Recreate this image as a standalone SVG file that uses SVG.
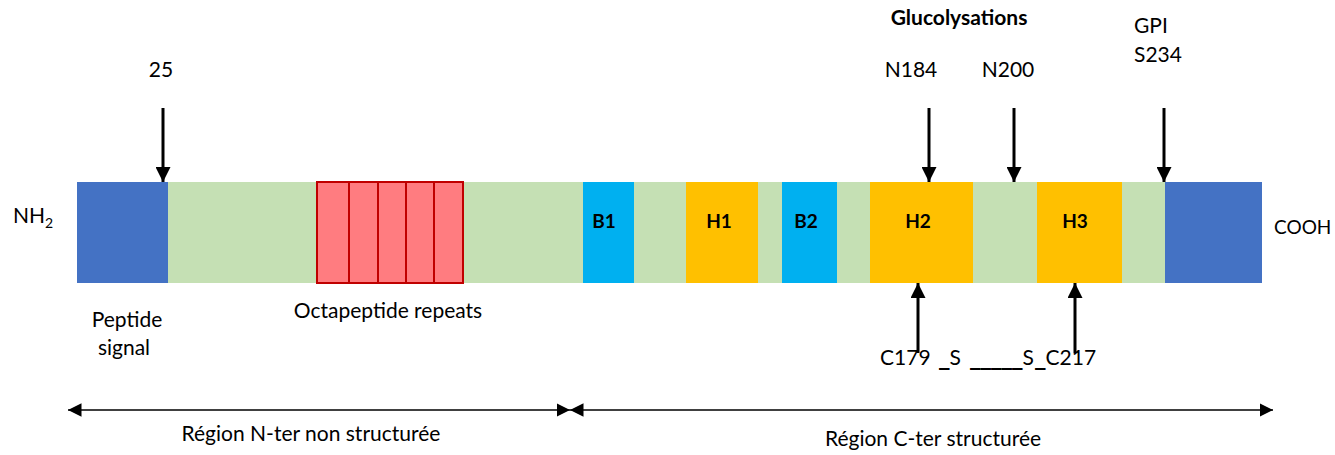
<svg xmlns="http://www.w3.org/2000/svg" width="1335" height="455" viewBox="0 0 1335 455">
<defs>
<marker id="ah" viewBox="0 0 10 10" refX="10" refY="5" markerWidth="5" markerHeight="5" orient="auto-start-reverse" markerUnits="strokeWidth">
<path d="M0,0 L10,5 L0,10 Z" fill="#000"/>
</marker>
<marker id="ah2" viewBox="0 0 10 10" refX="10" refY="5" markerWidth="9" markerHeight="9" orient="auto-start-reverse" markerUnits="strokeWidth">
<path d="M0,0 L10,5 L0,10 Z" fill="#000"/>
</marker>
</defs>
<style>
text{font-family:Lato,"Liberation Sans",sans-serif;font-size:21px;fill:#000}
.b{font-weight:bold;font-size:19px}
.gl{font-weight:bold;font-size:21px}
.m{text-anchor:middle}
.u{font-family:"DejaVu Sans",sans-serif;font-weight:bold;font-size:21px}
.g{fill:#c5e0b4}
.blue{fill:#4472c4}
.cy{fill:#00b0f0}
.y{fill:#ffc000}
.r{fill:#ff7c80;stroke:#c00000;stroke-width:2}
.arr{stroke:#000;stroke-width:3;fill:none;marker-end:url(#ah)}
.dbl{stroke:#000;stroke-width:1.5;fill:none;marker-end:url(#ah2);marker-start:url(#ah2)}
</style>
<g id="bar">
<rect class="g" x="77" y="182" width="1185" height="101"/>
<rect class="blue" x="77" y="182" width="91" height="101"/>
<rect class="blue" x="1165" y="182" width="97" height="101"/>
</g>
<g id="octapeptide">
<rect class="r" x="317" y="182" width="32" height="101"/>
<rect class="r" x="349" y="182" width="29" height="101"/>
<rect class="r" x="378" y="182" width="28" height="101"/>
<rect class="r" x="406" y="182" width="28" height="101"/>
<rect class="r" x="434" y="182" width="29" height="101"/>
</g>
<g id="B1"><rect class="cy" x="583" y="182" width="51" height="101"/><text class="b m" x="604" y="228">B1</text></g>
<g id="H1"><rect class="y" x="686" y="182" width="72" height="101"/><text class="b m" x="719" y="228">H1</text></g>
<g id="B2"><rect class="cy" x="782" y="182" width="55" height="101"/><text class="b m" x="806" y="228">B2</text></g>
<g id="H2"><rect class="y" x="870" y="182" width="103" height="101"/><text class="b m" x="918" y="228">H2</text></g>
<g id="H3"><rect class="y" x="1037" y="182" width="85" height="101"/><text class="b m" x="1075" y="228">H3</text></g>
<g id="connectors">
<line class="arr" x1="163" y1="108" x2="163" y2="182"/>
<line class="arr" x1="929" y1="108" x2="929" y2="182"/>
<line class="arr" x1="1014" y1="108" x2="1014" y2="182"/>
<line class="arr" x1="1164" y1="108" x2="1164" y2="182"/>
<line class="arr" x1="918" y1="353" x2="918" y2="283"/>
<line class="arr" x1="1075" y1="353" x2="1075" y2="283"/>
<line class="dbl" x1="68" y1="410" x2="570" y2="410"/>
<line class="dbl" x1="570" y1="410" x2="1273" y2="410"/>
</g>
<g id="labels">
<text class="m" x="161" y="77">25</text>
<text class="gl m" x="959" y="25">Glucolysations</text>
<text class="m" x="911" y="77">N184</text>
<text class="m" x="1008" y="77">N200</text>
<text x="1134" y="33">GPI</text>
<text x="1134" y="62">S234</text>
<text x="13" y="223">NH<tspan dy="5" font-size="14">2</tspan></text>
<text x="1274" y="234" style="font-size:19px">COOH</text>
<text class="m" x="127" y="327">Peptide</text>
<text class="m" x="124" y="355">signal</text>
<text class="m" x="388" y="318">Octapeptide repeats</text>
<text x="880" y="365">C179</text>
<text x="939" y="365"><tspan class="u">_</tspan>S</text>
<text x="970" y="365"><tspan class="u">_____</tspan>S</text>
<text x="1035" y="365"><tspan class="u">_</tspan>C217</text>
<text class="m" x="311" y="441">Région N-ter non structurée</text>
<text class="m" x="933" y="446">Région C-ter structurée</text>
</g>
</svg>
